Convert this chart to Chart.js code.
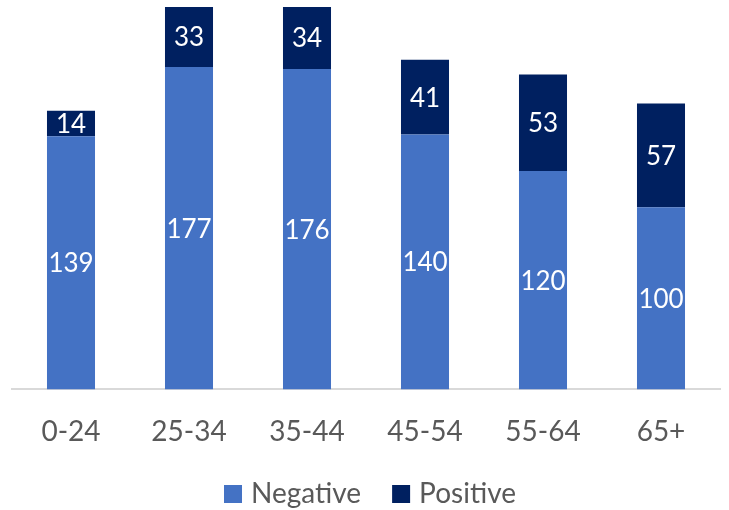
<!DOCTYPE html>
<html>
<head>
<meta charset="utf-8">
<script src="https://cdn.jsdelivr.net/npm/chart.js@4"></script>
<style>
  html, body { margin: 0; padding: 0; background: #fff; }
  #wrap { width: 729px; height: 510px; }
</style>
</head>
<body>
<div id="wrap"><canvas id="chart" width="729" height="510"></canvas></div>
<script>
// data
const categories = ['0-24', '25-34', '35-44', '45-54', '55-64', '65+'];
const negative   = [139, 177, 176, 140, 120, 100];
const positive   = [14, 33, 34, 41, 53, 57];

const FONT = 'Lato, "Open Sans", sans-serif';

// labels in the middle of each segment
const segLabels = {
  id: 'segLabels',
  afterDatasetsDraw(chart) {
    const ctx = chart.ctx;
    ctx.save();
    ctx.font = '26px ' + FONT;
    ctx.fillStyle = '#ffffff';
    ctx.textAlign = 'center';
    ctx.textBaseline = 'middle';
    chart.data.datasets.forEach((ds, i) => {
      chart.getDatasetMeta(i).data.forEach((bar, j) => {
        ctx.fillText(ds.data[j], bar.x, (bar.y + bar.base) / 2 + 1);
      });
    });
    ctx.restore();
  }
};

// legend at the bottom, drawn by hand (excel-like spacing)
const bottomLegend = {
  id: 'bottomLegend',
  afterDraw(chart) {
    const ctx = chart.ctx;
    const ds = chart.data.datasets;
    const box = 18, gap = 9, sep = 31;
    ctx.save();
    ctx.font = '28px ' + FONT;
    ctx.textBaseline = 'middle';
    const widths = ds.map(d => ctx.measureText(d.label).width);
    let total = widths.reduce((a, b) => a + b, 0) + ds.length * (box + gap) + (ds.length - 1) * sep;
    let x = (chart.chartArea.left + chart.chartArea.right) / 2 - total / 2 + 4;
    const y = 494;
    ds.forEach((d, i) => {
      ctx.fillStyle = d.backgroundColor;
      ctx.fillRect(x, y - box / 2, box, box);
      x += box + gap;
      ctx.fillStyle = '#595959';
      ctx.fillText(d.label, x, y);
      x += widths[i] + sep;
    });
    ctx.restore();
  }
};

new Chart(document.getElementById('chart'), {
  type: 'bar',
  data: {
    labels: categories,
    datasets: [
      { label: 'Negative', data: negative, backgroundColor: '#4472C4' },
      { label: 'Positive', data: positive, backgroundColor: '#002060' }
    ]
  },
  options: {
    responsive: false,
    animation: false,
    layout: { padding: { left: 12, right: 9, top: 7, bottom: 43 } },
    datasets: { bar: { barPercentage: 0.407, categoryPercentage: 1 } },
    plugins: {
      legend: { display: false },
      tooltip: { enabled: false }
    },
    scales: {
      x: {
        stacked: true,
        grid: { display: false },
        border: { color: '#d9d9d9', width: 2 },
        ticks: { color: '#595959', padding: 18, font: { family: FONT, size: 28 } }
      },
      y: {
        stacked: true,
        display: false,
        min: 0,
        max: 210
      }
    }
  },
  plugins: [segLabels, bottomLegend]
});
</script>
</body>
</html>
